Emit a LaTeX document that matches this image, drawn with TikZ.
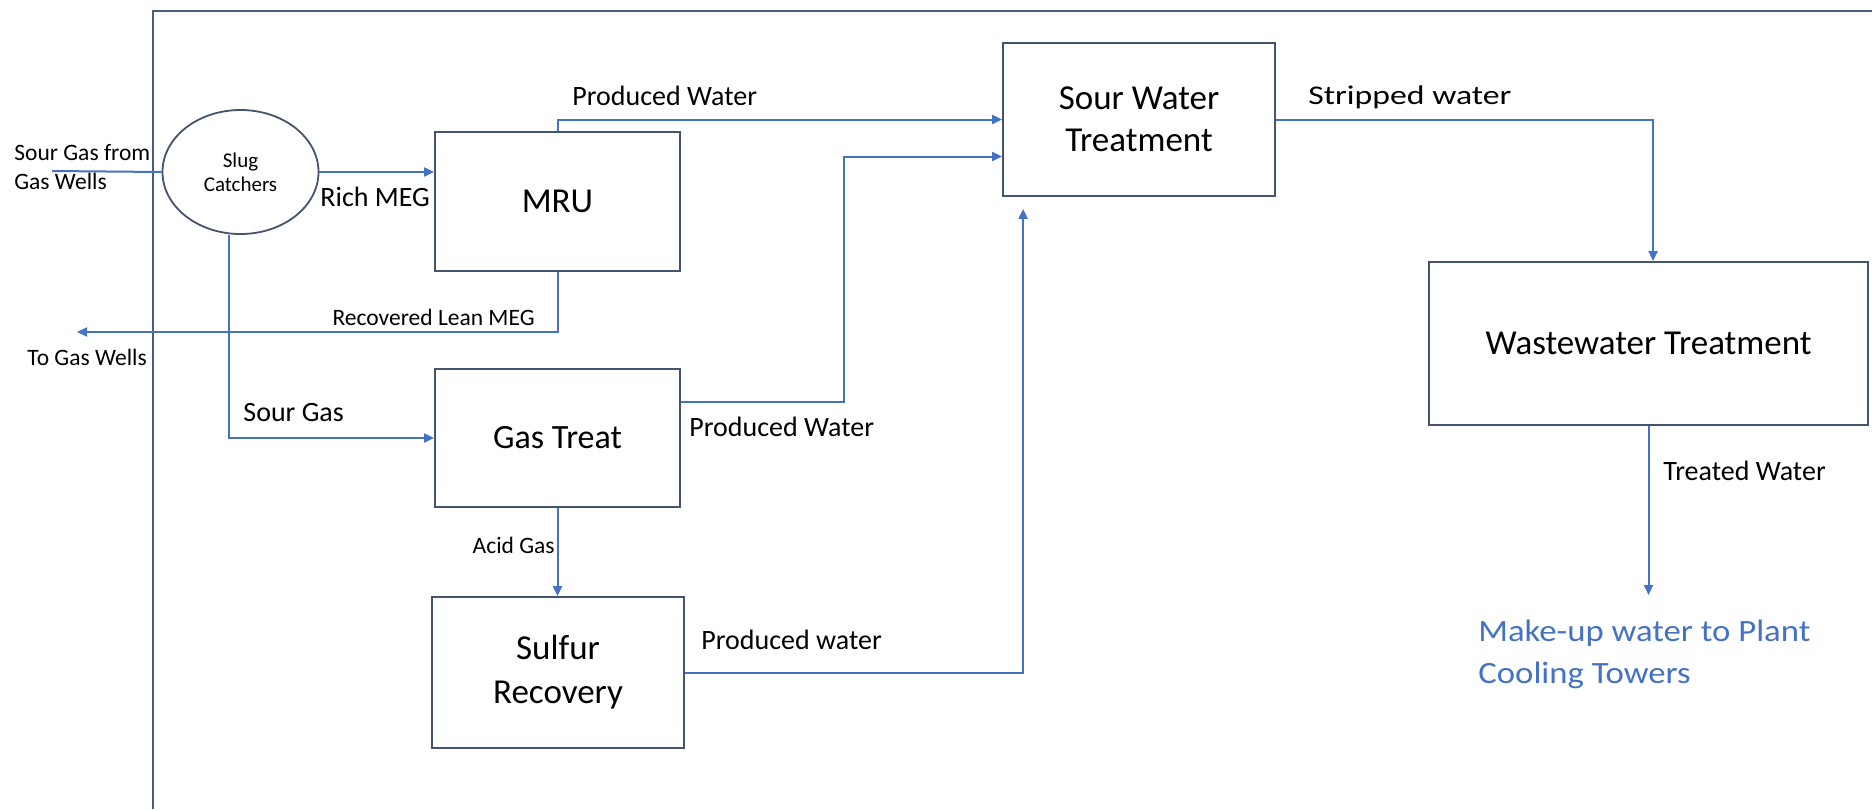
\documentclass[tikz,border=0pt]{standalone}
\usepackage{fontspec}
\setmainfont{Carlito}
\newfontfamily\stretchfont{Carlito}[FakeStretch=1.25]
\newfontfamily\makeupfont{Carlito}[FakeStretch=1.12]
\usetikzlibrary{arrows.meta,shapes.geometric}
\definecolor{flowblue}{RGB}{68,114,196}
\definecolor{boxline}{RGB}{68,84,106}
\definecolor{frameline}{RGB}{75,94,126}
\begin{document}
\begin{tikzpicture}[x=0.5pt,y=-0.5pt,
  unit/.style={draw=boxline,line width=0.9pt,inner sep=0pt,align=center,font=\fontsize{17.5}{21}\selectfont},
  flow/.style={draw=flowblue,line width=1pt},
  arr/.style={flow,-{Triangle[length=5pt,width=4.5pt]}},
  lbl/.style={inner sep=0pt,font=\fontsize{14}{17}\selectfont},
  small/.style={inner sep=0pt,font=\fontsize{11.75}{14.5}\selectfont}]
\useasboundingbox (0,0) rectangle (1872,809);
\draw[frameline,line width=0.9pt] (153,809) -- (153,11) -- (1872,11);
\node[draw=boxline,line width=0.9pt,ellipse,minimum width=78pt,minimum height=62pt,inner sep=0pt,align=center,font=\fontsize{10.5}{12}\selectfont] (slug) at (240.5,172) {Slug\\Catchers};
\node[unit,minimum width=122.5pt,minimum height=69.5pt] (mru) at (557.5,201.5) {MRU};
\node[unit,minimum width=122.5pt,minimum height=69pt,font=\fontsize{17}{20}\selectfont] (gas) at (557.5,438) {Gas Treat};
\node[unit,minimum width=126pt,minimum height=75.5pt,font=\fontsize{17.5}{22}\selectfont] (sru) at (558,672.5) {Sulfur\\Recovery};
\node[unit,minimum width=136pt,minimum height=76.5pt] (swt) at (1139,119.5) {Sour Water\\Treatment};
\node[unit,minimum width=219.5pt,minimum height=81.5pt] (wwt) at (1648.5,343.5) {Wastewater Treatment};
\coordinate (src) at (52,171);
\coordinate (wells) at (77,332);
\coordinate (mkup) at (1648.5,595);
\draw[flow] (src) -- (slug.west);
\draw[arr] (slug.east) -- (mru.west |- slug.east);
\draw[arr] (mru.north) |- (swt.west);
\draw[arr] (mru.south) |- (wells);
\draw[arr] ([xshift=-5.75pt]slug.south) |- (gas.west);
\draw[arr] ([yshift=18pt]gas.east) -- ++(163,0) |- ([yshift=-18.5pt]swt.west);
\draw[arr] (gas.south) -- (gas.south |- sru.north);
\draw[arr] (sru.east) -| ([xshift=10.5pt,yshift=-6pt]swt.south west);
\draw[arr] (swt.east) -| ([xshift=2.25pt]wwt.north);
\draw[arr] (wwt.south) -- (mkup);
\node[small,anchor=west,align=left,font=\fontsize{11.75}{14.5}\selectfont] (srclbl) at (14,167.5) {Sour Gas from\\Gas Wells};
\node[lbl,anchor=west] (richlbl) at (320,197) {Rich MEG};
\node[lbl,anchor=west] (pw1) at (572,96) {Produced Water};
\node[small,anchor=east] (leanlbl) at (535,317) {Recovered Lean MEG};
\node[small,anchor=west] (togas) at (27,357) {To Gas Wells};
\node[lbl,anchor=west] (sourlbl) at (243,413) {Sour Gas};
\node[lbl,anchor=west] (pw2) at (689,427) {Produced Water};
\node[small,anchor=east] (acidlbl) at (555,545) {Acid Gas};
\node[lbl,anchor=west] (pw3) at (701,640) {Produced water};
\node[lbl,anchor=west,font=\stretchfont\fontsize{13.5}{16}\selectfont] (striplbl) at (1308,97) {Stripped water};
\node[lbl,anchor=west] (treatlbl) at (1663,471) {Treated Water};
\node[anchor=north west,inner sep=0pt,align=left,text=flowblue,font=\makeupfont\fontsize{15.5}{21}\selectfont] (makeup) at (1478,620) {Make-up water to Plant\\Cooling Towers};
\end{tikzpicture}
\end{document}
